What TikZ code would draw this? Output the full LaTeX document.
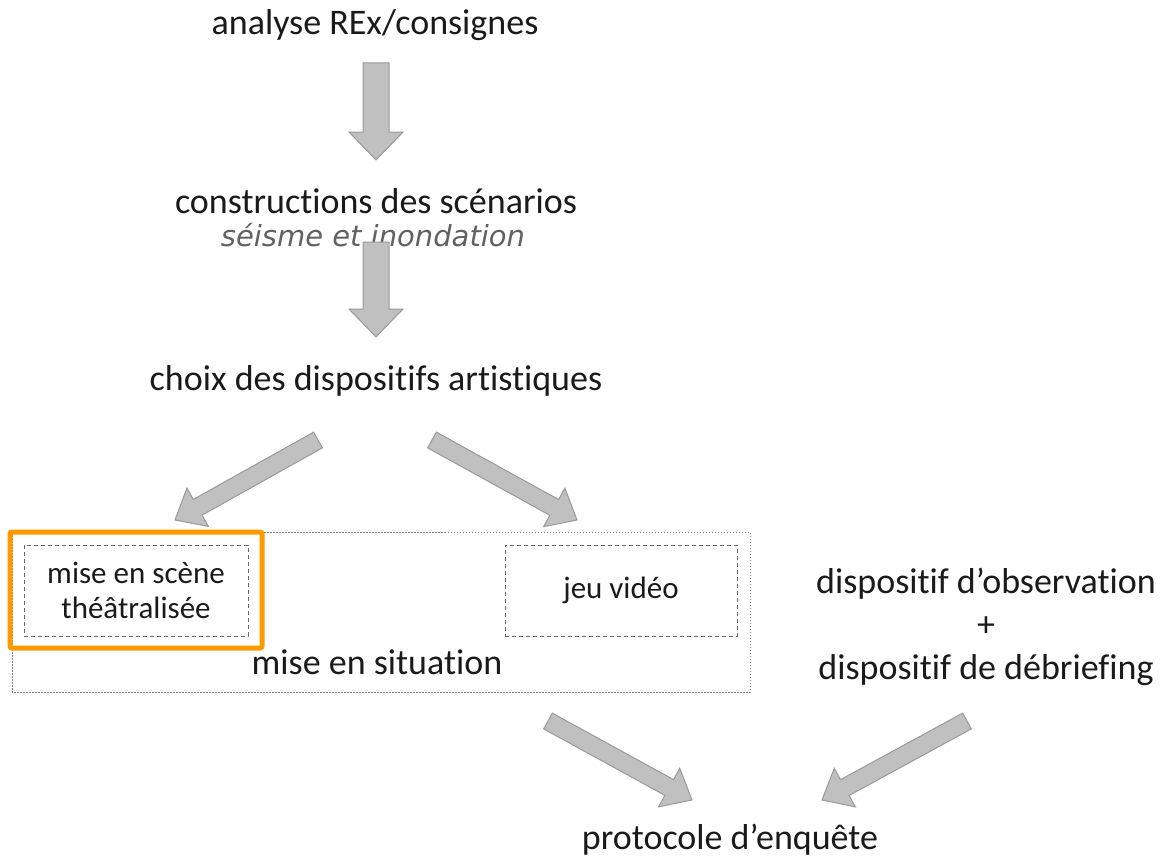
\documentclass[tikz,border=0pt]{standalone}
\usepackage{fontspec}
\setmainfont{Carlito}[Ligatures={NoCommon}]
\newfontfamily\verd{DejaVu Sans}
\usetikzlibrary{calc}
\definecolor{arrfill}{HTML}{C0C0C0}
\definecolor{arrdraw}{HTML}{999999}
\definecolor{orng}{HTML}{FF9900}
\definecolor{txt}{HTML}{1A1A1A}
\tikzset{
  lbl/.style={font=\fontsize{36}{43}\selectfont, text=txt, inner sep=0pt, align=center},
  small/.style={font=\fontsize{31}{35}\selectfont, text=txt, inner sep=0pt, align=center},
  sub/.style={font=\verd\itshape\fontsize{29}{34}\selectfont, text=black!62, inner sep=0pt},
  blockarrow/.style={fill=arrfill, draw=arrdraw, line width=1pt, line join=miter},
  dashbox/.style={draw=black!60, line width=1pt, dash pattern=on 4pt off 3pt},
  dotbox/.style={draw=black!50, line width=0.8pt, dash pattern=on 1.5pt off 1.5pt},
}
% block arrow from #1 (tail) to #2 (tip); #3 shaft half width, #4 head half width, #5 head length
\newcommand\barrow[5]{%
  \path[blockarrow] let \p1=($(#2)-(#1)$), \n1={atan2(\y1,\x1)}, \n2={veclen(\x1,\y1)} in
    [shift={(#1)}, rotate=\n1]
    (0pt,-#3pt) -- (\n2-#5pt,-#3pt) -- (\n2-#5pt,-#4pt) -- (\n2,0pt) -- (\n2-#5pt,#4pt) -- (\n2-#5pt,#3pt) -- (0pt,#3pt) -- cycle;}
\begin{document}
\begin{tikzpicture}[x=1pt,y=-1pt]
\useasboundingbox (0,0) rectangle (1160,859);
\node[lbl] (a) at (375,25) {analyse REx/consignes};
\node[lbl] (b) at (376,201) {constructions des scénarios};
\node[sub] (bs) at (373,235) {séisme et inondation};
\node[lbl] (c) at (376,381) {choix des dispositifs artistiques};
% mise en situation frame
\draw[dotbox] (12,532) rectangle (750,692);
\node[dashbox, minimum width=224, minimum height=91, small] (ms) at (136,590.5) {mise en scène\\théâtralisée};
\node[dashbox, minimum width=232, minimum height=91, small] (jv) at (621,590.5) {jeu vidéo};
\draw[orng, line width=5pt, rounded corners=2pt] (10,532) rectangle (262,648);
\node[lbl] (sit) at (377,662) {mise en situation};
\node[lbl, align=center] (obs) at (986,627) {dispositif d’observation\\+\\dispositif de débriefing};
\node[lbl] (p) at (730,840) {protocole d’enquête};
% arrow end points
\coordinate (a1s) at (376,63);  \coordinate (a1e) at (376,160);
\coordinate (a2s) at (376,242); \coordinate (a2e) at (376,337);
\coordinate (l1s) at (318,440); \coordinate (l1e) at (175,520);
\coordinate (r1s) at (432,440); \coordinate (r1e) at (577,520);
\coordinate (l2s) at (548,721); \coordinate (l2e) at (692,800);
\coordinate (r2s) at (967,721); \coordinate (r2e) at (822,800);
\barrow{a1s}{a1e}{13}{27}{28}
\barrow{a2s}{a2e}{13}{27}{28}
\barrow{l1s}{l1e}{9}{22}{26}
\barrow{r1s}{r1e}{9}{22}{26}
\barrow{l2s}{l2e}{9}{22}{26}
\barrow{r2s}{r2e}{9}{22}{26}
\end{tikzpicture}
\end{document}
